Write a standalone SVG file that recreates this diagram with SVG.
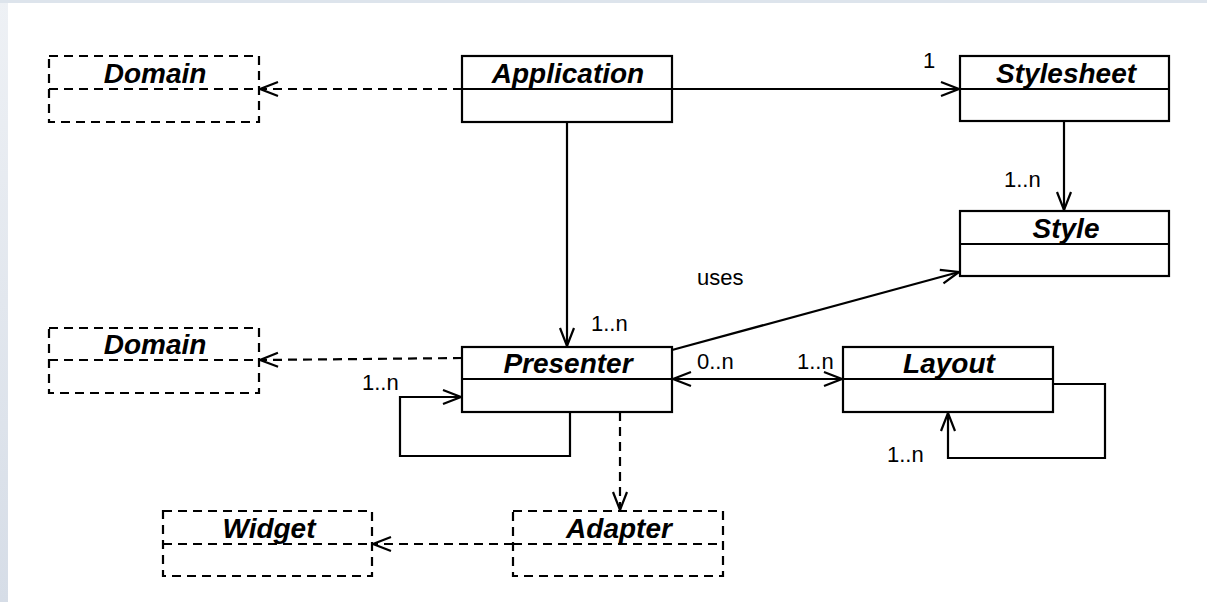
<svg xmlns="http://www.w3.org/2000/svg" width="1207" height="602" viewBox="0 0 1207 602">
<defs>
<linearGradient id="edge" x1="0" y1="0" x2="0" y2="1">
<stop offset="0" stop-color="#eef1f5"/>
<stop offset="1" stop-color="#d6dde7"/>
</linearGradient>
<marker id="open" markerUnits="userSpaceOnUse" markerWidth="24" markerHeight="20" viewBox="-2 -2 24 20" refX="19" refY="7" orient="auto-start-reverse" overflow="visible">
<path d="M1,0 L19,7 L1,14" fill="none" stroke="#000" stroke-width="2.2" stroke-dasharray="none"/>
</marker>
</defs>
<style>
.box{fill:#fff;stroke:#000;stroke-width:2.2}
.dbox{fill:#fff;stroke:#000;stroke-width:2.2;stroke-dasharray:9 6}
.sep{stroke:#000;stroke-width:2.2}
.dsep{stroke:#000;stroke-width:2.2;stroke-dasharray:9 6}
.name{font-family:"Liberation Sans",Arial,sans-serif;font-weight:bold;font-style:italic;font-size:28px;text-anchor:middle;fill:#000}
.lbl{font-family:"Liberation Sans",Arial,sans-serif;font-size:22px;fill:#000}
.conn{fill:none;stroke:#000;stroke-width:2.2}
.dash{fill:none;stroke:#000;stroke-width:2.2;stroke-dasharray:9 6}
</style>
<rect x="0" y="0" width="1207" height="602" fill="#fff"/>
<rect x="0" y="0" width="8" height="602" fill="url(#edge)"/>
<rect x="0" y="0" width="1207" height="3" fill="#dde4ec"/>

<g id="connectors">
<line class="dash" x1="462" y1="89" x2="260" y2="89" marker-end="url(#open)"/>
<line class="conn" x1="672" y1="89" x2="959" y2="89" marker-end="url(#open)"/>
<line class="conn" x1="1064" y1="122" x2="1064" y2="210" marker-end="url(#open)"/>
<line class="conn" x1="567" y1="122" x2="567" y2="346" marker-end="url(#open)"/>
<line class="conn" x1="672" y1="350" x2="959" y2="272" marker-end="url(#open)"/>
<line class="dash" x1="462" y1="358" x2="260" y2="360" marker-end="url(#open)"/>
<polyline class="conn" points="570,412 570,456 400,456 400,397 461,397" marker-end="url(#open)"/>
<line class="conn" x1="673" y1="379" x2="842" y2="379" marker-start="url(#open)" marker-end="url(#open)"/>
<polyline class="conn" points="1053,384 1105,384 1105,458 948,458 948,413" marker-end="url(#open)"/>
<line class="dash" x1="620" y1="412" x2="620" y2="510" marker-end="url(#open)"/>
<line class="dash" x1="513" y1="544" x2="373" y2="544" marker-end="url(#open)"/>
<text class="lbl" x="923" y="68">1</text>
<text class="lbl" x="1004" y="187">1..n</text>
<text class="lbl" x="591" y="331">1..n</text>
<text class="lbl" x="697" y="285">uses</text>
<text class="lbl" x="697" y="369">0..n</text>
<text class="lbl" x="797" y="369">1..n</text>
<text class="lbl" x="362" y="390">1..n</text>
<text class="lbl" x="887" y="462">1..n</text>
</g>

<g id="domain1">
<rect class="dbox" x="49" y="56" width="210" height="66"/>
<line class="dsep" x1="49" y1="89" x2="259" y2="89"/>
<text class="name" x="155" y="83">Domain</text>
</g>
<g id="application">
<rect class="box" x="462" y="56" width="210" height="66"/>
<line class="sep" x1="462" y1="89" x2="672" y2="89"/>
<text class="name" x="568" y="83">Application</text>
</g>
<g id="stylesheet">
<rect class="box" x="960" y="56" width="209" height="65"/>
<line class="sep" x1="960" y1="89" x2="1169" y2="89"/>
<text class="name" x="1066" y="83">Stylesheet</text>
</g>
<g id="style">
<rect class="box" x="960" y="211" width="209" height="65"/>
<line class="sep" x1="960" y1="244" x2="1169" y2="244"/>
<text class="name" x="1066" y="238">Style</text>
</g>
<g id="domain2">
<rect class="dbox" x="49" y="328" width="210" height="65"/>
<line class="dsep" x1="49" y1="360" x2="259" y2="360"/>
<text class="name" x="155" y="354">Domain</text>
</g>
<g id="presenter">
<rect class="box" x="462" y="347" width="210" height="65"/>
<line class="sep" x1="462" y1="379" x2="672" y2="379"/>
<text class="name" x="568" y="373">Presenter</text>
</g>
<g id="layout">
<rect class="box" x="843" y="347" width="210" height="65"/>
<line class="sep" x1="843" y1="379" x2="1053" y2="379"/>
<text class="name" x="949" y="373">Layout</text>
</g>
<g id="widget">
<rect class="dbox" x="163" y="511" width="209" height="65"/>
<line class="dsep" x1="163" y1="544" x2="372" y2="544"/>
<text class="name" x="269" y="538">Widget</text>
</g>
<g id="adapter">
<rect class="dbox" x="513" y="511" width="210" height="65"/>
<line class="dsep" x1="513" y1="544" x2="723" y2="544"/>
<text class="name" x="619" y="538">Adapter</text>
</g>
</svg>
